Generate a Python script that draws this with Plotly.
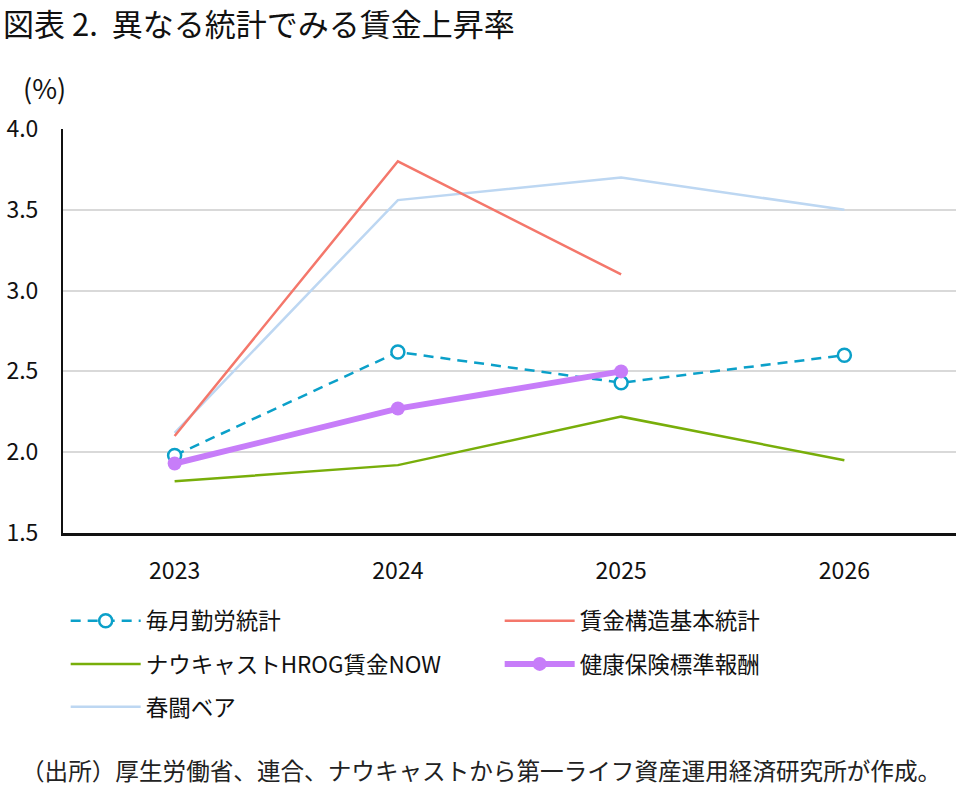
import plotly.graph_objects as go

years = ["2023", "2024", "2025", "2026"]
maitsuki = [1.98, 2.62, 2.43, 2.60]
chingin_kozo = [2.10, 3.80, 3.10, None]
nowcast = [1.82, 1.92, 2.22, 1.95]
kenpo = [1.93, 2.27, 2.50, None]
shunto = [2.12, 3.56, 3.70, 3.50]
y_ticks = [1.5, 2.0, 2.5, 3.0, 3.5, 4.0]

FONT = "Noto Sans CJK JP"
fig = go.Figure()

fig.add_trace(go.Scatter(x=years, y=shunto, name="春闘ベア", mode="lines",
                         line=dict(color="#BDD7F2", width=2.5), legend="legend3",
                         legendrank=5))
fig.add_trace(go.Scatter(x=years, y=chingin_kozo, name="賃金構造基本統計", mode="lines",
                         line=dict(color="#F4776B", width=2.5), legend="legend",
                         legendrank=2))
fig.add_trace(go.Scatter(x=years, y=nowcast, name="ナウキャストHROG賃金NOW", mode="lines",
                         line=dict(color="#78AE0A", width=2.5), legend="legend2",
                         legendrank=3))
fig.add_trace(go.Scatter(x=years, y=maitsuki, name="毎月勤労統計", mode="lines+markers",
                         line=dict(color="#0BA0C9", width=2.5, dash="10px,7px"),
                         marker=dict(symbol="circle", size=13, color="white",
                                     line=dict(color="#0BA0C9", width=2.5)),
                         legend="legend", legendrank=1))
fig.add_trace(go.Scatter(x=years, y=kenpo, name="健康保険標準報酬", mode="lines+markers",
                         line=dict(color="#C77DF9", width=6),
                         marker=dict(symbol="circle", size=14, color="#C77DF9"),
                         legend="legend2", legendrank=4))

leg_common = dict(orientation="h", xanchor="left", yanchor="middle", x=0.003,
                  font=dict(family=FONT, size=22.5, color="#111"),
                  entrywidth=349, entrywidthmode="pixels", itemwidth=70,
                  bgcolor="rgba(0,0,0,0)", traceorder="normal")

fig.update_layout(
    width=963, height=786,
    margin=dict(l=63, r=7, t=129, b=253),
    paper_bgcolor="white", plot_bgcolor="white",
    font=dict(family=FONT, size=20, color="#111"),
    showlegend=True,
    legend=dict(**leg_common, y=-0.218),
    legend2=dict(**leg_common, y=-0.325),
    legend3=dict(**leg_common, y=-0.431),
    xaxis=dict(type="category", range=[-0.5, 3.5], showgrid=False, automargin=False,
               showline=True, linecolor="#111", linewidth=2.5,
               ticks="", tickfont=dict(family=FONT, size=23, color="#111"),
               ticklabelstandoff=16),
    yaxis=dict(range=[1.5, 4.0], tickvals=y_ticks, tickformat=".1f", automargin=False,
               showgrid=True, gridcolor="#D9D9D9", gridwidth=2,
               showline=True, linecolor="#111", linewidth=2,
               zeroline=False, ticks="", ticklabelstandoff=18,
               tickfont=dict(family=FONT, size=23, color="#111")),
    annotations=[
        dict(text="図表 2.\u00a0\u00a0異なる統計でみる賃金上昇率", xref="paper", yref="paper",
             x=-62/893, y=1 + (129-22)/404, xanchor="left", yanchor="middle",
             showarrow=False, font=dict(family=FONT, size=31, color="#111")),
        dict(text="(%)", xref="paper", yref="paper",
             x=-42/893, y=1 + (129-88)/404, xanchor="left", yanchor="middle",
             showarrow=False, font=dict(family=FONT, size=27, color="#111")),
        dict(text="（出所）厚生労働省、連合、ナウキャストから第一ライフ資産運用経済研究所が作成。",
             xref="paper", yref="paper",
             x=(481-63)/893, y=-(770-533)/404, xanchor="center", yanchor="middle",
             showarrow=False, font=dict(family=FONT, size=23.6, color="#222")),
    ],
)

fig.write_html("out.html")
